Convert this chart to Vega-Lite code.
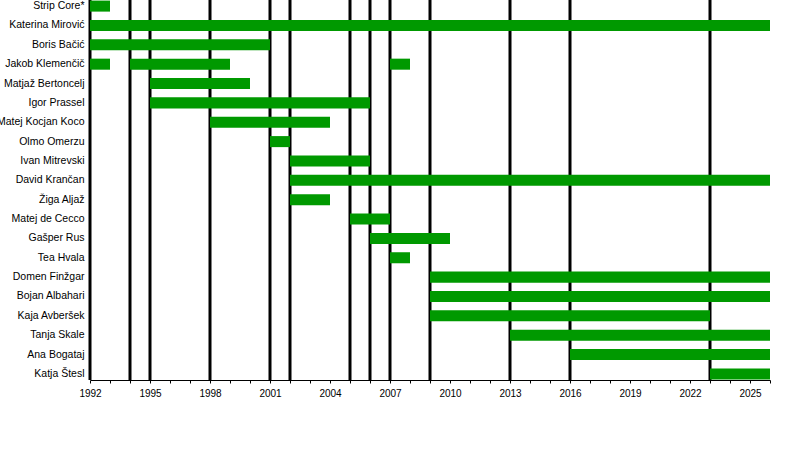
{
  "$schema": "https://vega.github.io/schema/vega-lite/v6.json",
  "width": 680,
  "height": 380,
  "autosize": "none",
  "padding": {"left": 90, "top": 0, "right": 30, "bottom": 78},
  "background": "white",
  "config": {
    "view": {"stroke": null},
    "font": "Liberation Sans",
    "axis": {"labelFont": "Liberation Sans", "labelColor": "black"}
  },
  "datasets": {
    "members": [
      {"member": "Strip Core*", "start": 1992, "end": 1993},
      {"member": "Katerina Mirović", "start": 1992, "end": 2026},
      {"member": "Boris Bačić", "start": 1992, "end": 2001},
      {"member": "Jakob Klemenčič", "start": 1992, "end": 1993},
      {"member": "Jakob Klemenčič", "start": 1994, "end": 1999},
      {"member": "Jakob Klemenčič", "start": 2007, "end": 2008},
      {"member": "Matjaž Bertoncelj", "start": 1995, "end": 2000},
      {"member": "Igor Prassel", "start": 1995, "end": 2006},
      {"member": "Matej Kocjan Koco", "start": 1998, "end": 2004},
      {"member": "Olmo Omerzu", "start": 2001, "end": 2002},
      {"member": "Ivan Mitrevski", "start": 2002, "end": 2006},
      {"member": "David Krančan", "start": 2002, "end": 2026},
      {"member": "Žiga Aljaž", "start": 2002, "end": 2004},
      {"member": "Matej de Cecco", "start": 2005, "end": 2007},
      {"member": "Gašper Rus", "start": 2006, "end": 2010},
      {"member": "Tea Hvala", "start": 2007, "end": 2008},
      {"member": "Domen Finžgar", "start": 2009, "end": 2026},
      {"member": "Bojan Albahari", "start": 2009, "end": 2026},
      {"member": "Kaja Avberšek", "start": 2009, "end": 2023},
      {"member": "Tanja Skale", "start": 2013, "end": 2026},
      {"member": "Ana Bogataj", "start": 2016, "end": 2026},
      {"member": "Katja Štesl", "start": 2023, "end": 2026}
    ],
    "releases": [
      {"year": 1992}, {"year": 1994}, {"year": 1995}, {"year": 1998},
      {"year": 2001}, {"year": 2002}, {"year": 2005}, {"year": 2006},
      {"year": 2007}, {"year": 2009}, {"year": 2013}, {"year": 2016},
      {"year": 2023}
    ]
  },
  "layer": [
    {
      "data": {"name": "releases"},
      "mark": {"type": "rule", "color": "black", "strokeWidth": 3},
      "encoding": {
        "x": {
          "field": "year",
          "type": "quantitative",
          "scale": {"domain": [1992, 2026], "nice": false, "zero": false},
          "axis": {
            "title": null,
            "values": [1992, 1993, 1994, 1995, 1996, 1997, 1998, 1999, 2000, 2001, 2002, 2003, 2004, 2005, 2006, 2007, 2008, 2009, 2010, 2011, 2012, 2013, 2014, 2015, 2016, 2017, 2018, 2019, 2020, 2021, 2022, 2023, 2024, 2025, 2026],
            "tickCount": 50,
            "labelExpr": "(datum.value - 1992) % 3 == 0 ? format(datum.value, 'd') : ''",
            "labelOverlap": false,
            "grid": false,
            "tickSize": 3,
            "tickColor": "black",
            "domainColor": "black",
            "labelFontSize": 10,
            "labelPadding": 5,
            "labelFlush": false
          }
        }
      }
    },
    {
      "data": {"name": "members"},
      "mark": {"type": "bar", "color": "#009900"},
      "encoding": {
        "y": {
          "field": "member",
          "type": "nominal",
          "sort": null,
          "scale": {"paddingInner": 0.43, "paddingOuter": 0.03},
          "axis": {"title": null, "ticks": false, "domain": false, "labelPadding": 6, "labelFontSize": 10.5}
        },
        "x": {"field": "start", "type": "quantitative"},
        "x2": {"field": "end"}
      }
    }
  ]
}
